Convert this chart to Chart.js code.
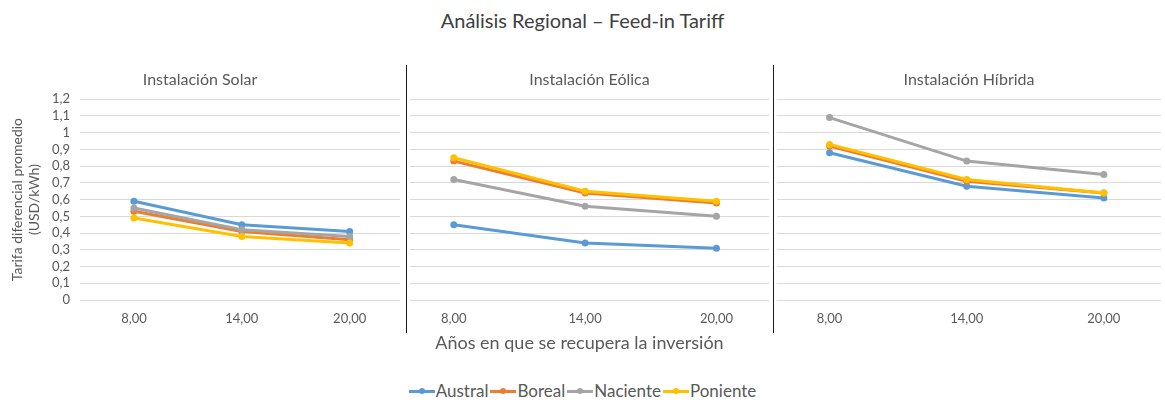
<!DOCTYPE html>
<html>
<head>
    <title></title>
    <meta charset="utf-8" />
    <style>
    body { margin: 0; background: #fff; font-family: Lato, sans-serif; }
    #wrap { position: relative; width: 1165px; height: 400px; overflow: hidden; }
    #title { position: absolute; top: 8px; left: 0; width: 1165px; text-align: center; font-size: 20px; color: #404040; }
    canvas { position: absolute; top: 60px; }
    .sep { position: absolute; top: 65px; height: 268px; width: 0; border-left: 1px solid #1a1a1a; }
    #xtitle { position: absolute; top: 331px; left: 0; width: 1165px; text-align: center; font-size: 18px; color: #595959; }
    #xtitle span { position: relative; left: -3px; }
    #legend { position: absolute; top: 380px; left: 0; width: 1165px; text-align: center; font-size: 17px; color: #595959; }
    .item { display: inline-block; margin: 0 1px; }
    .swatch { display: inline-block; position: relative; width: 26px; height: 3px; vertical-align: middle; margin-right: 1px; top: -1px; }
    .swatch i { position: absolute; left: 10px; top: -2px; width: 6px; height: 6px; border-radius: 3px; }
    </style>
    <script src="https://cdn.jsdelivr.net/npm/chart.js"></script>
</head>
<body>
<div id="wrap">
    <div id="title">Análisis Regional – Feed-in Tariff</div>
    <canvas id="c0" width="406" height="280" style="left:0px"></canvas>
    <canvas id="c1" width="367" height="280" style="left:406px"></canvas>
    <canvas id="c2" width="392" height="280" style="left:773px"></canvas>
    <div class="sep" style="left:406px"></div>
    <div class="sep" style="left:773px"></div>
    <div id="xtitle"><span>Años en que se recupera la inversión</span></div>
    <div id="legend"></div>
</div>
<script>
// años de recuperación (eje x)
let years = [8, 14, 20];
let regions = ['Austral', 'Boreal', 'Naciente', 'Poniente'];
let colors = ['#5B9BD5', '#ED7D31', '#A5A5A5', '#FFC000'];
let panelTitles = ['Instalación Solar', 'Instalación Eólica', 'Instalación Híbrida'];

// una fila por región, en el orden de regions
let solar = [
    [0.59, 0.45, 0.41],
    [0.53, 0.41, 0.36],
    [0.55, 0.42, 0.38],
    [0.49, 0.38, 0.34]
];
let eolica = [
    [0.45, 0.34, 0.31],
    [0.83, 0.64, 0.58],
    [0.72, 0.56, 0.50],
    [0.85, 0.65, 0.59]
];
let hibrida = [
    [0.88, 0.68, 0.61],
    [0.92, 0.71, 0.64],
    [1.09, 0.83, 0.75],
    [0.93, 0.72, 0.64]
];
let panelData = [solar, eolica, hibrida];

// rango de x de cada panel (margen a los lados)
let xRanges = [[5, 22.8], [6, 22.4], [5.7, 22.5]];

function fmt(v, d) { return v.toFixed(d).replace('.', ','); }

panelData.forEach((rows, p) => {
    let datasets = rows.map((vals, i) => ({
        label: regions[i],
        data: vals.map((v, j) => ({ x: years[j], y: v })),
        borderColor: colors[i],
        backgroundColor: colors[i],
        borderWidth: 3,
        pointRadius: 3.5,
        pointBorderWidth: 0,
        tension: 0,
        order: regions.length - i
    }));
    let first = p === 0;
    new Chart(document.getElementById('c' + p), {
        type: 'line',
        data: { datasets: datasets },
        options: {
            responsive: false,
            animation: false,
            layout: { padding: { right: p === 0 ? 6 : 0 } },
            plugins: {
                legend: { display: false },
                tooltip: { enabled: false },
                title: {
                    display: true,
                    text: panelTitles[p],
                    color: '#595959',
                    font: { family: 'Lato', size: 16, weight: 'normal' },
                    padding: { top: 10, bottom: 10 }
                }
            },
            scales: {
                x: {
                    type: 'linear',
                    min: xRanges[p][0],
                    max: xRanges[p][1],
                    afterBuildTicks: s => { s.ticks = years.map(v => ({ value: v })); },
                    afterFit: s => { s.height = 40; },
                    grid: { display: false, drawTicks: false },
                    border: { display: false },
                    ticks: {
                        padding: 11,
                        color: '#595959',
                        font: { family: 'Lato', size: 13 },
                        maxRotation: 0,
                        callback: v => fmt(v, 2)
                    }
                },
                y: {
                    min: 0,
                    max: 1.2,
                    afterFit: s => { s.width = first ? 80 : 0; },
                    grid: { color: '#d9d9d9', lineWidth: 1, drawTicks: false },
                    border: { display: false },
                    ticks: {
                        display: first,
                        autoSkip: false,
                        stepSize: 0.1,
                        padding: 10,
                        color: '#595959',
                        font: { family: 'Lato', size: 13 },
                        callback: v => String(Math.round(v * 10) / 10).replace('.', ',')
                    },
                    title: {
                        display: first,
                        text: ['Tarifa diferencial promedio', '(USD/kWh)'],
                        color: '#595959',
                        font: { family: 'Lato', size: 14 },
                        padding: { top: 9, bottom: 0 }
                    }
                }
            }
        }
    });
});

// leyenda
let legend = document.getElementById('legend');
regions.forEach((r, i) => {
    let item = document.createElement('span');
    item.className = 'item';
    item.innerHTML = '<span class="swatch" style="background:' + colors[i] + '"><i style="background:' + colors[i] + '"></i></span>' + r;
    legend.appendChild(item);
});
</script>
</body>
</html>
